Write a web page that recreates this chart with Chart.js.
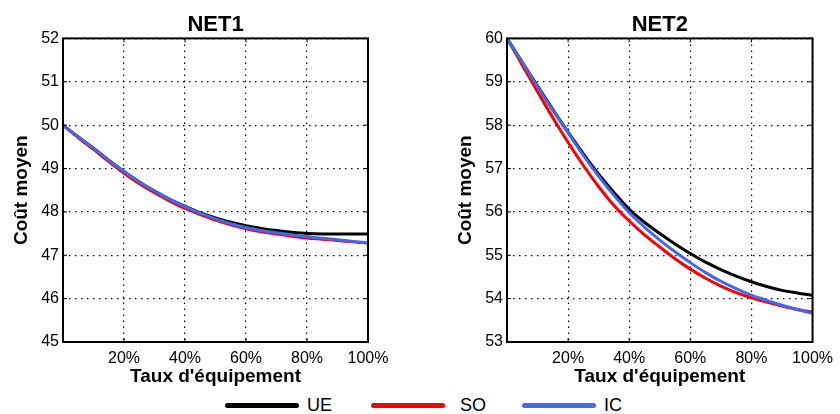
<!DOCTYPE html>
<html>
<head>
<meta charset="utf-8">
<script src="https://cdn.jsdelivr.net/npm/chart.js@4/dist/chart.umd.min.js"></script>
<style>
  body { margin: 0; background: #fff; width: 840px; height: 414px; overflow: hidden; position: relative; font-family: "Liberation Sans", Arial, sans-serif; }
  .box { position: absolute; top: 0; width: 420px; height: 390px; }
  #legend { position: absolute; top: 394px; left: 0; width: 840px; height: 20px; }
  .item { position: absolute; top: 0; height: 20px; }
  .swatch { position: absolute; top: 9px; width: 74px; height: 5px; border-radius: 3px; }
  .lbl { position: absolute; top: 0; font-size: 18px; line-height: 22px; color: #000; }
</style>
</head>
<body>
<div class="box" style="left:0"><canvas id="net1" width="420" height="390"></canvas></div>
<div class="box" style="left:420px"><canvas id="net2" width="420" height="390"></canvas></div>
<div id="legend"></div>
<script>
const taux = [0, 5, 10, 15, 20, 25, 30, 35, 40, 45, 50, 55, 60, 65, 70, 75, 80, 85, 90, 95, 100];
const seriesNames = ['UE', 'SO', 'IC'];
const seriesColors = ['#000000', '#ff0000', '#4169f0'];

const net1UE = [50.00, 49.73, 49.47, 49.19, 48.93, 48.69, 48.48, 48.29, 48.13, 47.98, 47.86, 47.76, 47.68, 47.62, 47.57, 47.53, 47.50, 47.49, 47.49, 47.49, 47.49];
const net1SO = [50.00, 49.71, 49.44, 49.16, 48.89, 48.65, 48.44, 48.25, 48.08, 47.94, 47.81, 47.70, 47.61, 47.54, 47.49, 47.44, 47.40, 47.37, 47.34, 47.31, 47.28];
const net1IC = [50.00, 49.73, 49.47, 49.19, 48.93, 48.69, 48.48, 48.29, 48.12, 47.97, 47.84, 47.73, 47.64, 47.57, 47.52, 47.47, 47.43, 47.39, 47.36, 47.32, 47.29];

const net2UE = [60.00, 59.45, 58.90, 58.36, 57.84, 57.34, 56.87, 56.45, 56.06, 55.76, 55.50, 55.26, 55.04, 54.84, 54.67, 54.52, 54.39, 54.28, 54.19, 54.13, 54.08];
const net2SO = [60.00, 59.38, 58.77, 58.17, 57.60, 57.07, 56.58, 56.15, 55.79, 55.47, 55.19, 54.92, 54.68, 54.47, 54.29, 54.14, 54.02, 53.92, 53.83, 53.75, 53.69];
const net2IC = [60.00, 59.45, 58.88, 58.34, 57.82, 57.30, 56.82, 56.38, 55.98, 55.65, 55.35, 55.08, 54.83, 54.60, 54.40, 54.23, 54.08, 53.96, 53.85, 53.75, 53.66];

const xTicks = [0, 20, 40, 60, 80, 100];
const yTicks1 = [45, 52];
const yTicks2 = [53, 60];

const FONT = '"Liberation Sans", Arial, sans-serif';

// cadre + petites graduations internes façon MATLAB
const framePlugin = {
  id: 'frame',
  afterDatasetsDraw(chart) {
    const { ctx, chartArea: a, scales } = chart;
    ctx.save();
    ctx.strokeStyle = '#000';
    ctx.lineWidth = 1;
    ctx.beginPath();
    scales.x.ticks.forEach(t => {
      const px = scales.x.getPixelForValue(t.value);
      ctx.moveTo(px, a.bottom); ctx.lineTo(px, a.bottom - 4);
      ctx.moveTo(px, a.top); ctx.lineTo(px, a.top + 4);
    });
    scales.y.ticks.forEach(t => {
      const py = scales.y.getPixelForValue(t.value);
      ctx.moveTo(a.left, py); ctx.lineTo(a.left + 4, py);
      ctx.moveTo(a.right, py); ctx.lineTo(a.right - 4, py);
    });
    ctx.stroke();
    ctx.lineWidth = 2;
    ctx.strokeRect(a.left, a.top, a.right - a.left, a.bottom - a.top);
    ctx.restore();
  }
};

function makeChart(id, title, ue, so, ic, yRange, padLeft, padRight) {
  const values = [ue, so, ic];
  return new Chart(document.getElementById(id), {
    type: 'line',
    data: {
      datasets: seriesNames.map((name, i) => ({
        label: name,
        data: taux.map((x, j) => ({ x: x, y: values[i][j] })),
        borderColor: seriesColors[i],
        borderWidth: 3,
        pointRadius: 0,
        cubicInterpolationMode: 'monotone',
        fill: false
      })).reverse()
    },
    options: {
      responsive: false,
      animation: false,
      layout: { padding: { left: padLeft, right: padRight, top: 0, bottom: 0 } },
      plugins: {
        legend: { display: false },
        tooltip: { enabled: false },
        title: {
          display: true,
          text: title,
          fullSize: false,
          color: '#000',
          font: { family: FONT, size: 22, weight: 'bold' },
          padding: { top: 12, bottom: 0 }
        }
      },
      scales: {
        x: {
          type: 'linear',
          min: xTicks[0],
          max: xTicks[xTicks.length - 1],
          afterFit: s => { s.height = 48; },
          afterBuildTicks: s => { s.ticks = xTicks.map(v => ({ value: v })); },
          ticks: {
            color: '#000',
            padding: 7,
            maxRotation: 0,
            font: { family: FONT, size: 16 },
            callback: v => v === 0 ? '' : v + '%'
          },
          grid: { color: '#000', lineWidth: 1.2, drawTicks: false },
          border: { display: false, dash: [1.5, 4.5] },
          title: {
            display: true,
            text: "Taux d'équipement",
            color: '#000',
            font: { family: FONT, size: 19, weight: 'bold' },
            padding: { top: 0, bottom: 2 }
          }
        },
        y: {
          min: yRange[0],
          max: yRange[1],
          afterFit: s => { s.width = 63; },
          ticks: {
            stepSize: 1,
            color: '#000',
            padding: 4,
            font: { family: FONT, size: 16 }
          },
          grid: { color: '#000', lineWidth: 1.2, drawTicks: false },
          border: { display: false, dash: [1.5, 4.5] },
          title: {
            display: true,
            text: 'Coût moyen',
            color: '#000',
            font: { family: FONT, size: 19, weight: 'bold' },
            padding: { top: 10, bottom: 0 }
          }
        }
      }
    },
    plugins: [framePlugin]
  });
}

makeChart('net1', 'NET1', net1UE, net1SO, net1IC, yTicks1, 0, 52);
makeChart('net2', 'NET2', net2UE, net2SO, net2IC, yTicks2, 24, 27);

// légende commune en bas
const legendX = [225, 371, 522];
const legend = document.getElementById('legend');
seriesNames.forEach((name, i) => {
  const item = document.createElement('div');
  item.className = 'item';
  item.style.left = legendX[i] + 'px';
  item.innerHTML = '<div class="swatch" style="left:0;background:' + seriesColors[i] + '"></div>' +
    '<div class="lbl" style="left:' + (i === 1 ? 89 : 82) + 'px">' + name + '</div>';
  legend.appendChild(item);
});
</script>
</body>
</html>
